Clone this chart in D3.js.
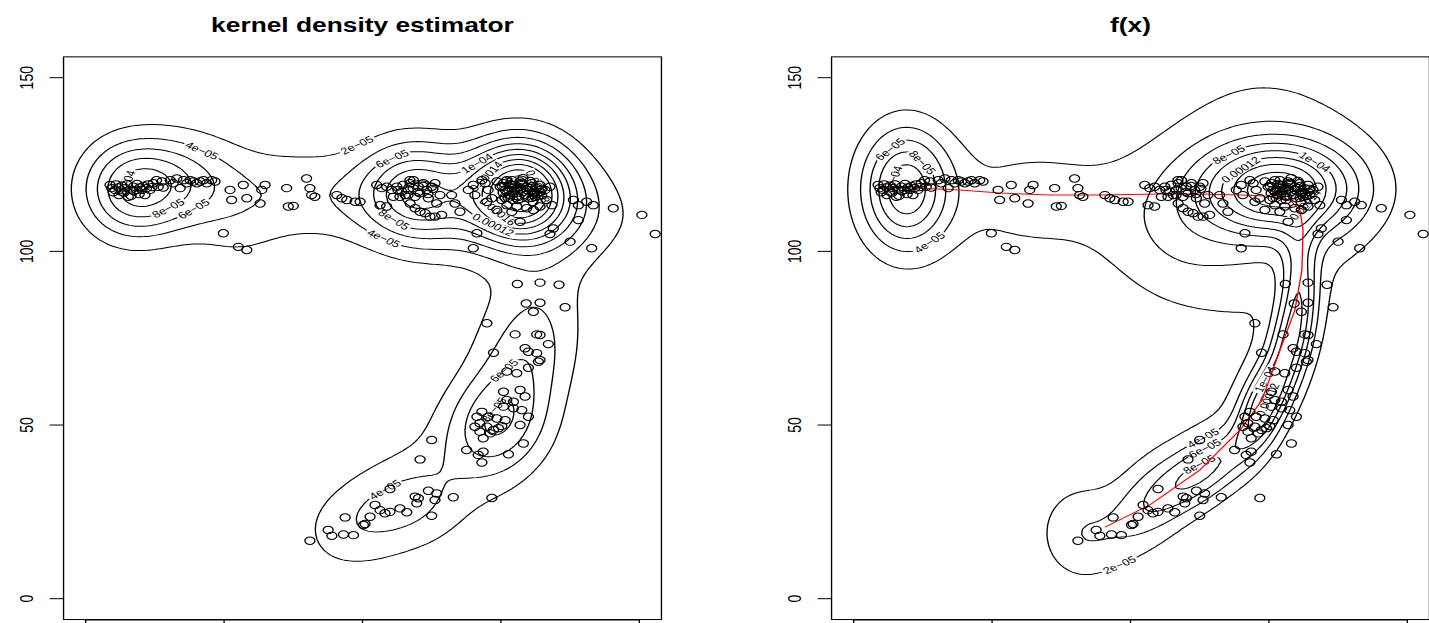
<!DOCTYPE html>
<html>
<head>
<meta charset="utf-8">
<script src="https://cdn.jsdelivr.net/npm/d3@7"></script>
<style>
  body { margin: 0; background: #fff; }
  svg { display: block; }
  text { font-family: "Liberation Sans", Arial, Helvetica, sans-serif; fill: #000; }
</style>
</head>
<body>
<svg id="chart" width="1429" height="623"></svg>
<script>
// ---- data -------------------------------------------------------------
const points = [
  // western cluster
  [14.1,118.2],[15.9,117.7],[17.7,118.4],[19.5,117.2],[21.3,118.2],[23.1,115.7],[24.0,117.7],[25.8,118.6],
  [27.6,117.7],[29.4,118.4],[31.2,118.8],[33.0,118.2],[34.8,117.7],[36.6,119.6],[38.4,120.5],[39.3,118.6],
  [41.3,120.1],[42.0,118.4],[45.8,120.5],[47.4,119.6],[49.4,121.0],[51.2,118.2],[53.0,120.5],[54.8,119.6],
  [56.6,120.5],[58.4,120.1],[60.2,119.6],[62.0,120.1],[63.8,120.5],[65.6,119.6],[68.3,120.5],[70.1,120.1],
  [13.2,119.1],[14.9,117.0],[16.4,119.3],[18.0,116.2],[19.7,118.9],[20.7,116.9],[22.4,119.3],[24.6,116.0],
  [26.1,117.4],[27.8,119.4],[29.0,116.5],[30.5,117.7],[32.1,116.2],[33.8,119.3],[35.9,118.5],
  // band between the clusters
  [78.2,117.7],[79.1,114.8],[85.4,119.1],[87.3,115.3],[94.5,113.8],[95.4,117.7],[97.2,119.1],[108.9,118.2],
  [109.8,112.9],[112.5,113.1],[119.7,121.0],[121.5,118.2],[122.4,116.2],[124.2,115.7],[136.1,116.2],[138.8,115.3],
  [141.5,114.8],[146.0,114.3],[74.6,105.2],[82.7,101.3],[87.3,100.4],
  // eastern cluster
  [157.7,119.1],[160.4,118.2],[163.1,118.6],[165.8,117.7],[166.7,115.7],[168.6,118.6],[171.3,117.2],[173.1,116.2],
  [174.8,117.7],[175.8,119.6],[177.6,120.5],[178.5,115.7],[180.3,118.6],[181.2,116.7],[183.0,119.6],[184.8,117.7],
  [185.7,115.3],[187.5,118.6],[189.3,119.6],[190.2,113.8],[192.0,116.2],[192.9,110.5],[159.5,113.3],[163.1,112.9],
  [175.8,113.8],[178.5,112.4],[181.2,111.4],[183.9,111.0],[186.6,110.0],[189.3,110.0],[148.7,114.3],
  [169.2,117.7],[171.9,119.1],[174.7,116.2],[177.4,118.2],[180.1,117.1],[182.8,118.8],[185.5,116.5],[188.2,118.0],
  [170.3,115.7],[175.7,120.5],
  [198.3,116.2],[200.1,113.8],[202.8,111.4],[207.3,117.7],[210.0,119.1],[210.9,116.2],[214.7,120.5],[216.5,119.6],
  [218.1,117.7],
  [222.8,120.1],[224.6,118.6],[226.4,119.6],[228.2,120.5],[229.1,117.7],[230.9,119.1],[231.8,116.7],[233.6,118.2],
  [234.5,115.7],[235.4,120.1],[237.2,117.2],[239.0,118.6],[239.9,115.3],[241.7,119.6],[242.6,116.7],[244.4,118.2],
  [246.2,119.1],[247.1,116.2],[248.9,117.7],[249.8,114.8],[251.6,118.6],[252.6,113.3],[246.2,112.9],[242.6,111.9],
  [239.0,112.4],[235.4,108.5],[233.6,112.9],[230.9,111.4],[228.2,113.3],[225.5,114.8],[222.8,111.9],[220.1,115.3],
  [217.4,114.3],
  [227.3,117.7],[230.0,116.2],[232.7,119.1],[235.4,117.7],[238.1,116.2],[240.8,118.2],[243.5,117.1],[231.0,120.5],
  [236.4,119.4],[241.8,115.4],[228.9,115.4],[234.3,114.8],[239.1,117.7],[245.1,115.9],[226.2,116.8],
  [225.6,118.8],[228.3,117.1],[231.0,118.2],[233.7,115.9],[236.4,119.7],[239.1,117.7],[241.9,118.8],[244.6,116.5],
  [247.3,118.0],[227.2,115.4],[229.9,119.4],[232.6,117.4],[235.3,118.5],[238.1,116.2],[240.8,120.3],[243.5,115.7],
  [246.2,117.1],[231.6,114.8],[237.0,121.1],[242.4,114.2],
  [264.3,114.8],[267.0,113.3],[271.5,114.3],[275.1,113.3],[285.9,112.4],[301.4,110.5],[308.6,105.0],[267.0,109.0],
  [253.4,106.6],[251.6,105.0],[262.5,102.8],[274.2,100.9],[210.0,100.9],[212.0,105.2],
  // southern arm
  [233.9,90.6],[246.2,91.0],[256.5,90.4],[238.7,85.0],[246.2,85.2],[242.6,82.6],[259.8,83.9],[217.4,79.3],
  [232.7,76.1],[244.4,76.1],[246.2,75.9],[250.7,73.3],[238.1,72.1],[239.9,71.1],[244.4,70.7],[246.2,68.7],
  [245.3,68.2],[239.9,66.5],[221.0,70.8],[228.2,65.4],[233.6,64.9],[226.4,59.6],[235.4,60.1],[238.1,58.2],
  [228.2,57.2],[231.8,56.7],[226.4,55.3],[231.8,54.8],[236.3,54.3],[239.9,52.4],[214.7,53.8],[212.0,52.4],
  [218.1,52.4],[222.8,51.9],[227.3,51.4],[213.6,50.5],[210.9,49.5],[217.4,49.5],[221.0,48.6],[223.7,49.1],
  [225.5,49.7],[213.6,48.1],[219.2,47.6],[215.4,46.2],[235.4,50.0],[237.2,44.7],[206.4,42.8],[212.7,41.4],
  [215.4,42.3],[214.7,39.2],[229.1,41.6],[187.5,45.7],[181.2,40.1],[164.9,31.6],[178.5,29.4],[180.3,28.9],
  [185.7,31.1],[189.3,28.4],[190.2,30.3],[179.4,27.5],[199.2,29.2],[220.1,29.0],[156.8,27.0],[159.5,25.5],
  [162.2,24.6],[164.9,25.0],[170.3,26.0],[174.0,24.9],[154.1,23.6],[150.5,21.2],[151.4,21.5],[140.6,23.4],
  [131.4,19.8],[133.4,18.1],[139.7,18.5],[145.1,18.3],[121.5,16.7],[187.5,23.9]
];

// contour levels of the density surfaces
const levels = [2e-5, 4e-5, 6e-5, 8e-5, 1e-4, 1.2e-4, 1.4e-4, 1.6e-4, 1.8e-4, 2e-4, 2.2e-4, 2.4e-4, 2.6e-4, 2.8e-4, 3e-4];

// axis ticks
const xTicks = [0, 75, 150, 225, 300];
const yTicks = [0, 50, 100, 150];

// Gaussian kernel bandwidths (x, y) of the estimator
const kdeBandwidth = [17, 9.5];

// components of f(x): centre, spread, correlation and weight
const fCenterX = [28, 95, 175, 230, 222, 242, 236, 222, 190, 158, 122, 195];
const fCenterY = [118, 115, 104, 118, 118, 92, 74, 56, 37, 27, 19, 45];
const fSigmaX  = [16.5, 40, 28, 28, 45, 7, 8, 10, 18, 16, 16, 35];
const fSigmaY  = [12, 14, 14, 9, 28, 12, 10, 9, 8, 10, 10, 22];
const fRho     = [0, 0, 0, 0, 0, 0, 0.3, 0.5, 0.6, 0.4, 0, 0.6];
const fWeight  = [0.14, 0.09, 0.06, 0.23, 0.26, 0.03, 0.035, 0.05, 0.05, 0.035, 0.035, 0.05];

// density ridge traced through f(x)
const ridge = [
  [136.2,20.6],[160.5,27.0],[187.7,37.1],[209.4,48.6],[221.3,57.2],[231.0,71.6],[239.1,83.1],[242.9,94.6],
  [243.5,106.2],[241.8,111.9],[236.4,114.8],[225.6,115.9],[209.4,116.2],[187.7,116.5],[166.1,116.5],[133.5,116.2],
  [106.4,116.2],[79.4,116.8],[57.6,117.7],[36.0,118.2],[14.3,118.6]
];

const panelTitles = ["kernel density estimator", "f(x)"];

// ---- layout (drawn in an unstretched frame, then widened) -------------
const SX = 1.35;
const panelX = [[63.48, 473.56], [632.37, 1042.45]];
const plotY = [598.7, 77.7];

const svg = d3.select("#chart");
const defs = svg.append("defs");
const root = svg.append("g").attr("transform", `scale(${SX},1)`);

function fmtLevel(v) {
  const fixed = v.toFixed(12).replace(/0+$/, "").replace(/\.$/, "");
  const parts = v.toExponential().split("e");
  const m = String(+parts[0]);
  const e = parseInt(parts[1], 10);
  const sci = m + "e" + (e < 0 ? "-" : "+") + String(Math.abs(e)).padStart(2, "0");
  return (fixed.length <= sci.length ? fixed : sci).replace(/-/g, "\u2212");
}

// Gaussian product-kernel estimate on a regular grid
function kdeGrid(pts, bw, g) {
  const { x0, y0, step, nx, ny } = g;
  const vals = new Float64Array(nx * ny);
  const wx = new Float64Array(nx), wy = new Float64Array(ny);
  const cx = 1 / (Math.sqrt(2 * Math.PI) * bw[0]);
  const cy = 1 / (Math.sqrt(2 * Math.PI) * bw[1]);
  for (const [px, py] of pts) {
    for (let i = 0; i < nx; i++) { const u = (x0 + i * step - px) / bw[0]; wx[i] = cx * Math.exp(-0.5 * u * u); }
    for (let j = 0; j < ny; j++) { const v = (y0 + j * step - py) / bw[1]; wy[j] = cy * Math.exp(-0.5 * v * v); }
    for (let j = 0; j < ny; j++) {
      const w = wy[j];
      if (w < 1e-14) continue;
      const row = j * nx;
      for (let i = 0; i < nx; i++) vals[row + i] += w * wx[i];
    }
  }
  for (let k = 0; k < vals.length; k++) vals[k] /= pts.length;
  return vals;
}

// bivariate normal mixture on a regular grid
function mixtureGrid(g) {
  const { x0, y0, step, nx, ny } = g;
  const vals = new Float64Array(nx * ny);
  fWeight.forEach((w, c) => {
    const sx = fSigmaX[c], sy = fSigmaY[c], r = fRho[c];
    const k = w / (2 * Math.PI * sx * sy * Math.sqrt(1 - r * r));
    for (let j = 0; j < ny; j++) {
      const v = (y0 + j * step - fCenterY[c]) / sy;
      for (let i = 0; i < nx; i++) {
        const u = (x0 + i * step - fCenterX[c]) / sx;
        const q = (u * u - 2 * r * u * v + v * v) / (1 - r * r);
        vals[j * nx + i] += k * Math.exp(-0.5 * q);
      }
    }
  });
  return vals;
}

function resample(ring, stepLen) {
  const out = [];
  for (let k = 0; k < ring.length - 1; k++) {
    const a = ring[k], b = ring[k + 1];
    const d = Math.hypot(b[0] - a[0], b[1] - a[1]);
    const n = Math.max(1, Math.ceil(d / stepLen));
    for (let t = 0; t < n; t++) out.push([a[0] + (b[0] - a[0]) * t / n, a[1] + (b[1] - a[1]) * t / n]);
  }
  return out;
}

function rectCorners(cx, cy, w, h, ang) {
  const c = Math.cos(ang), s = Math.sin(ang);
  return [[-w / 2, -h / 2], [w / 2, -h / 2], [w / 2, h / 2], [-w / 2, h / 2]]
    .map(([u, v]) => [cx + u * c - v * s, cy + u * s + v * c]);
}

function overlaps(A, B) {
  for (const P of [A, B]) {
    for (let i = 0; i < 4; i++) {
      const p1 = P[i], p2 = P[(i + 1) % 4];
      const ax = -(p2[1] - p1[1]), ay = p2[0] - p1[0];
      let amin = Infinity, amax = -Infinity, bmin = Infinity, bmax = -Infinity;
      for (const q of A) { const d = q[0] * ax + q[1] * ay; amin = Math.min(amin, d); amax = Math.max(amax, d); }
      for (const q of B) { const d = q[0] * ax + q[1] * ay; bmin = Math.min(bmin, d); bmax = Math.max(bmax, d); }
      if (amax < bmin || bmax < amin) return false;
    }
  }
  return true;
}

// flattest stretch of a contour line that can hold the label,
// leaning towards stretches that run across the panel
function findLabelSpot(ring, w, h, box, placed) {
  const pts = resample(ring, 1);
  const n = pts.length;
  if (n < w * 1.3) return null;
  const L = Math.ceil(w);
  let best = null;
  for (let i = 0; i < n; i += 2) {
    const a = pts[i], b = pts[(i + L) % n];
    const dx = b[0] - a[0], dy = b[1] - a[1];
    const chord = Math.hypot(dx, dy);
    if (chord < 0.8 * w) continue;
    let dev = 0;
    for (let k = 1; k < L; k++) {
      const p = pts[(i + k) % n];
      dev = Math.max(dev, Math.abs((p[0] - a[0]) * dy - (p[1] - a[1]) * dx) / chord);
    }
    const tilt = Math.abs(dy) / chord;
    const score = dev + 10 * tilt;
    if (best && score >= best.score) continue;
    let ang = Math.atan2(dy, dx);
    if (ang > Math.PI / 2) ang -= Math.PI;
    if (ang < -Math.PI / 2) ang += Math.PI;
    const cx = (a[0] + b[0]) / 2, cy = (a[1] + b[1]) / 2;
    const corners = rectCorners(cx, cy, w, h, ang);
    if (corners.some(([u, v]) => u < box[0] + 1 || u > box[1] - 1 || v < box[2] + 1 || v > box[3] - 1)) continue;
    if (placed.some(P => overlaps(P, corners))) continue;
    best = { score, cx, cy, ang, corners };
  }
  return best;
}

function drawPanel(idx, field) {
  const x = d3.scaleLinear().domain(d3.extent(xTicks)).range(panelX[idx]);
  const y = d3.scaleLinear().domain(d3.extent(yTicks)).range(plotY);
  const xd = x.domain(), yd = y.domain();
  const padX = 0.04 * (xd[1] - xd[0]), padY = 0.04 * (yd[1] - yd[0]);
  const bx0 = x(xd[0] - padX), bx1 = x(xd[1] + padX);
  const by0 = y(yd[0] - padY), by1 = y(yd[1] + padY);
  const box = [bx0, bx1, by1, by0];

  const g = root.append("g");

  defs.append("clipPath").attr("id", "clip" + idx)
    .append("rect").attr("x", bx0).attr("y", by1).attr("width", bx1 - bx0).attr("height", by0 - by1);
  const mask = defs.append("mask").attr("id", "mask" + idx)
    .attr("maskUnits", "userSpaceOnUse").attr("x", 0).attr("y", 0).attr("width", 1200).attr("height", 700);
  mask.append("rect").attr("x", 0).attr("y", 0).attr("width", 1200).attr("height", 700).attr("fill", "#fff");

  // density surface and its contour lines
  const grid = { x0: -60, y0: -40, step: 1.5, nx: 290, ny: 155 };
  const vals = field(grid);
  const sets = d3.contours().size([grid.nx, grid.ny]).thresholds(levels)(Array.from(vals));
  const toPx = c => [x(grid.x0 + (c[0] - 0.5) * grid.step), y(grid.y0 + (c[1] - 0.5) * grid.step)];
  const line = d3.line();

  const lines = g.append("g").attr("clip-path", `url(#clip${idx})`).attr("mask", `url(#mask${idx})`);
  const labels = g.append("g").attr("clip-path", `url(#clip${idx})`);
  const placed = [];
  const fs = 9.5;

  sets.forEach(set => {
    const txt = fmtLevel(set.value);
    const probe = labels.append("text").attr("font-size", fs).text(txt);
    const tw = probe.node().getComputedTextLength();
    probe.remove();
    set.coordinates.forEach(poly => poly.forEach(ring => {
      const px = ring.map(toPx);
      lines.append("path").attr("d", line(px) + "Z")
        .attr("fill", "none").attr("stroke", "#000").attr("stroke-width", 1);
      const spot = findLabelSpot(px, tw + 3, fs * 0.85, box, placed);
      if (!spot) return;
      placed.push(spot.corners);
      const deg = spot.ang * 180 / Math.PI;
      mask.append("rect")
        .attr("x", -(tw + 3) / 2).attr("y", -fs * 0.45).attr("width", tw + 3).attr("height", fs * 0.9)
        .attr("fill", "#000")
        .attr("transform", `translate(${spot.cx},${spot.cy}) rotate(${deg})`);
      labels.append("text")
        .attr("font-size", fs).attr("text-anchor", "middle").attr("dy", "0.35em")
        .attr("transform", `translate(${spot.cx},${spot.cy}) rotate(${deg})`)
        .text(txt);
    }));
  });

  // ridge of f(x)
  if (idx === 1) {
    g.append("path")
      .attr("d", d3.line().x(d => x(d[0])).y(d => y(d[1]))(ridge))
      .attr("fill", "none").attr("stroke", "#ff0000").attr("stroke-width", 1)
      .attr("clip-path", `url(#clip${idx})`);
  }

  // observations
  g.append("g").attr("clip-path", `url(#clip${idx})`)
    .selectAll("circle").data(points).join("circle")
    .attr("cx", d => x(d[0])).attr("cy", d => y(d[1])).attr("r", 3.7)
    .attr("fill", "none").attr("stroke", "#000").attr("stroke-width", 1);

  // frame
  g.append("rect").attr("x", bx0).attr("y", by1).attr("width", bx1 - bx0).attr("height", by0 - by1)
    .attr("fill", "none").attr("stroke", "#000").attr("stroke-width", 1);

  // y axis
  const tick = 10.4;
  yTicks.forEach(t => {
    g.append("line").attr("x1", bx0 - tick).attr("x2", bx0).attr("y1", y(t)).attr("y2", y(t))
      .attr("stroke", "#000").attr("stroke-width", 1);
    g.append("text").attr("font-size", 14).attr("text-anchor", "middle")
      .attr("transform", `translate(${bx0 - 22.7},${y(t)}) rotate(-90)`).text(t);
  });

  // x axis (its labels fall below the visible area)
  g.append("line").attr("x1", x(xd[0])).attr("x2", x(xd[1])).attr("y1", by0 + 0.5).attr("y2", by0 + 0.5)
    .attr("stroke", "#000").attr("stroke-width", 1);
  xTicks.forEach(t => {
    g.append("line").attr("x1", x(t)).attr("x2", x(t)).attr("y1", by0).attr("y2", by0 + tick)
      .attr("stroke", "#000").attr("stroke-width", 1);
  });

  // title
  g.append("text").attr("font-size", 19.5).attr("font-weight", "bold").attr("text-anchor", "middle")
    .attr("x", (bx0 + bx1) / 2).attr("y", 32).text(panelTitles[idx]);
}

drawPanel(0, grid => kdeGrid(points, kdeBandwidth, grid));
drawPanel(1, grid => mixtureGrid(grid));
</script>
</body>
</html>
